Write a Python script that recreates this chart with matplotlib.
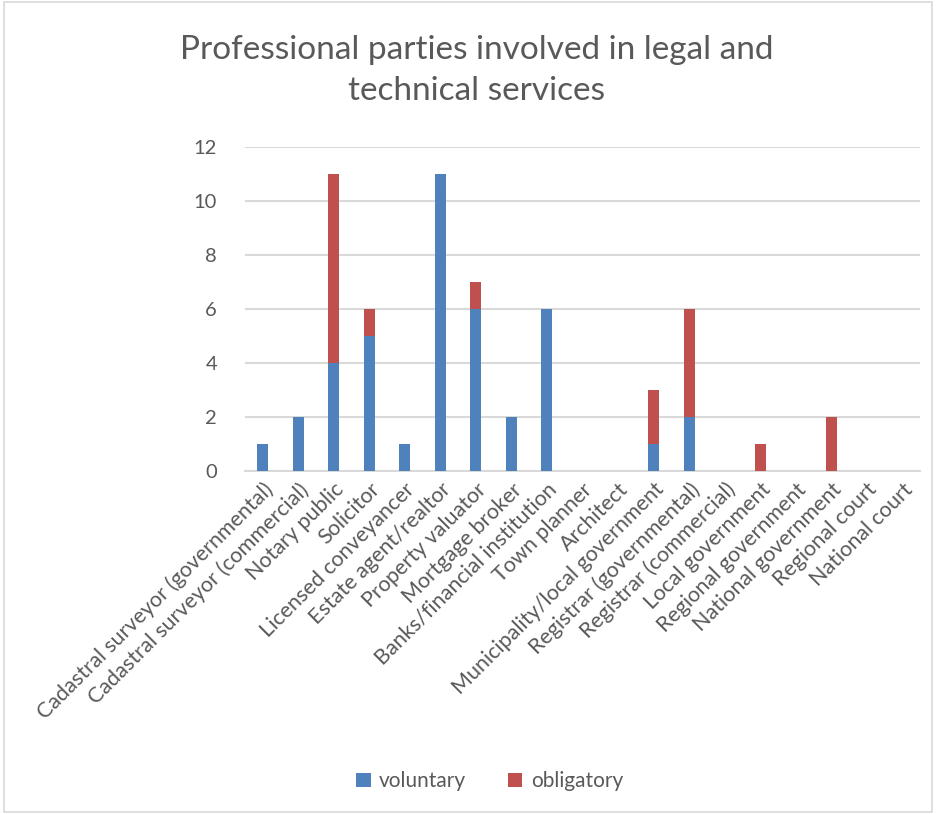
import numpy as np
import matplotlib.pyplot as plt
from matplotlib.patches import Rectangle

# who is involved in legal and technical services, split by type of involvement
parties = [
    "Cadastral surveyor (governmental)", "Cadastral surveyor (commercial)",
    "Notary public", "Solicitor", "Licensed conveyancer", "Estate agent/realtor",
    "Property valuator", "Mortgage broker", "Banks/financial institution",
    "Town planner", "Architect", "Municipality/local government",
    "Registrar (governmental)", "Registrar (commercial)", "Local government",
    "Regional government", "National government", "Regional court", "National court",
]
voluntary = [1, 2, 4, 5, 1, 11, 6, 2, 6, 0, 0, 1, 2, 0, 0, 0, 0, 0, 0]
obligatory = [0, 0, 7, 1, 0, 0, 1, 0, 0, 0, 0, 2, 4, 0, 1, 0, 2, 0, 0]

plt.rcParams['font.family'] = ['Lato', 'DejaVu Sans']
grey = '#595959'

fig = plt.figure(figsize=(9.38, 8.14), dpi=100)
ax = fig.add_axes([0.261, 0.4214, 0.72, 0.3980])

x = np.arange(len(parties))
w = 0.31
ax.bar(x, voluntary, w, color='#4F81BD', label='voluntary', zorder=3)
ax.bar(x, obligatory, w, bottom=voluntary, color='#C0504D', label='obligatory', zorder=3)

ax.set_ylim(0, 12)
ax.set_xlim(-0.5, len(parties) - 0.5)
ax.set_yticks(range(0, 13, 2))
ax.yaxis.grid(True, color='#D9D9D9', linewidth=1.5, zorder=0)
ax.set_axisbelow(True)
for s in ['top', 'right', 'left']:
    ax.spines[s].set_visible(False)
ax.spines['bottom'].set_color('#D9D9D9')
ax.spines['bottom'].set_linewidth(1.5)
ax.tick_params(axis='y', length=0, colors=grey, labelsize=14.5, pad=20)
ax.tick_params(axis='x', length=0, colors=grey, labelsize=15.5, pad=6)
ax.set_xticks(x)
ax.set_xticklabels(parties, rotation=45, ha='right', rotation_mode='anchor')

fig.text(0.508, 0.913, "Professional parties involved in legal and\ntechnical services",
         ha='center', va='center', fontsize=24, color=grey, linespacing=1.45)

fig.legend(loc='center', bbox_to_anchor=(0.522, 0.04), ncol=2, frameon=False,
           fontsize=15, labelcolor=grey, handlelength=0.7, handleheight=0.7,
           columnspacing=2.0, handletextpad=0.4)

fig.patches.append(Rectangle((0.004, 0.002), 0.99, 0.996, transform=fig.transFigure,
                             fill=False, edgecolor='#D9D9D9', linewidth=1.2))

fig.savefig('out.png', dpi=100)
